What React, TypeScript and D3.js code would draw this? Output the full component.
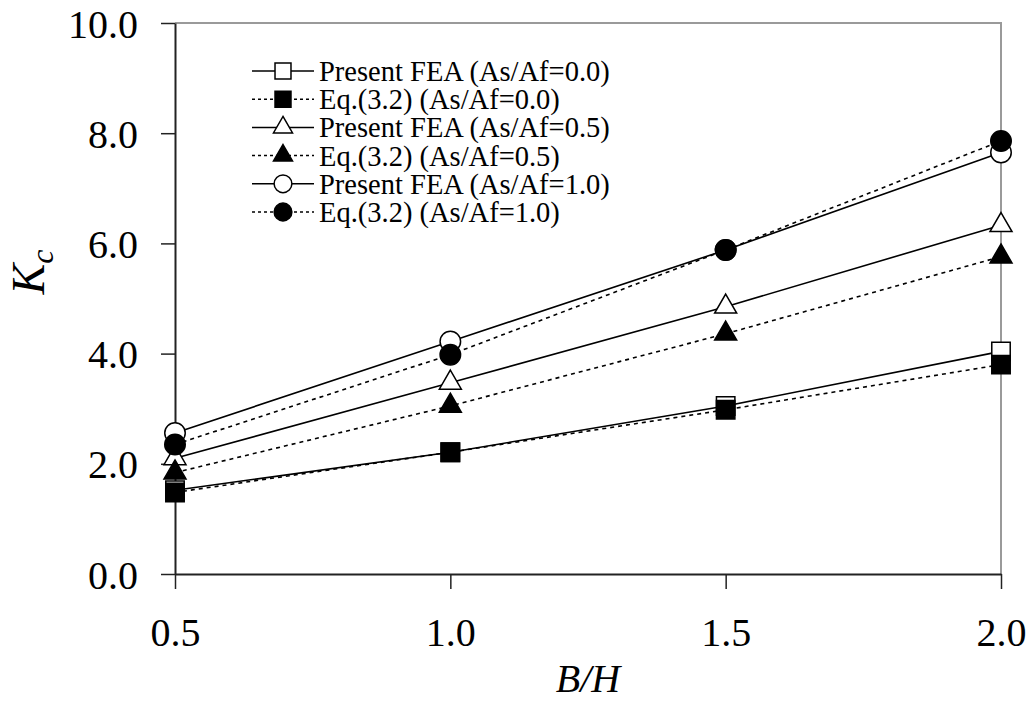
import React, { useEffect, useRef } from "react";
import * as d3 from "d3";

// B/H ratios along the x axis
const ratios = [0.5, 1.0, 1.5, 2.0];

// K_c
const feaAs00 = [1.52, 2.21, 3.05, 4.04];
const eqAs00 = [1.48, 2.21, 2.98, 3.8];
const feaAs05 = [2.1, 3.47, 4.85, 6.33];
const eqAs05 = [1.84, 3.05, 4.36, 5.76];
const feaAs10 = [2.56, 4.22, 5.88, 7.65];
const eqAs10 = [2.35, 3.98, 5.88, 7.86];

const seriesNames = [
  "Present FEA (As/Af=0.0)",
  "Eq.(3.2) (As/Af=0.0)",
  "Present FEA (As/Af=0.5)",
  "Eq.(3.2) (As/Af=0.5)",
  "Present FEA (As/Af=1.0)",
  "Eq.(3.2) (As/Af=1.0)",
];

const xTicks = [0.5, 1.0, 1.5, 2.0];
const yTicks = [0, 2, 4, 6, 8, 10];

const App = () => {
  const ref = useRef<SVGSVGElement>(null);

  useEffect(() => {
    const width = 1033;
    const height = 704;
    const margin = { top: 23, right: 32, bottom: 130, left: 175 };
    const font = "'Liberation Serif', 'Times New Roman', serif";

    const svg = d3.select(ref.current);
    svg.selectAll("*").remove();

    const x = d3.scaleLinear().domain([0.5, 2.0]).range([margin.left, width - margin.right]);
    const y = d3.scaleLinear().domain([0, 10]).range([height - margin.bottom, margin.top]);

    const series = [
      { name: seriesNames[0], values: feaAs00, shape: d3.symbolSquare, filled: false, dashed: false },
      { name: seriesNames[1], values: eqAs00, shape: d3.symbolSquare, filled: true, dashed: true },
      { name: seriesNames[2], values: feaAs05, shape: d3.symbolTriangle, filled: false, dashed: false },
      { name: seriesNames[3], values: eqAs05, shape: d3.symbolTriangle, filled: true, dashed: true },
      { name: seriesNames[4], values: feaAs10, shape: d3.symbolCircle, filled: false, dashed: false },
      { name: seriesNames[5], values: eqAs10, shape: d3.symbolCircle, filled: true, dashed: true },
    ];

    const symSize = (shape) => (shape === d3.symbolSquare ? 340 : shape === d3.symbolTriangle ? 210 : 330);

    // plot area border (grey top and right)
    svg.append("path")
      .attr("d", `M${x(0.5)},${y(10)}H${x(2)}V${y(0)}`)
      .attr("fill", "none")
      .attr("stroke", "#9a9a9a")
      .attr("stroke-width", 2);

    // axes
    const xAxis = svg.append("g")
      .attr("transform", `translate(0,${y(0)})`)
      .call(d3.axisBottom(x).tickValues(xTicks).tickFormat(d3.format(".1f")).tickSize(15).tickSizeOuter(0));
    xAxis.select(".domain").attr("stroke", "#222").attr("stroke-width", 2);
    xAxis.selectAll(".tick line").attr("stroke", "#222").attr("stroke-width", 1.5);
    xAxis.selectAll("text")
      .attr("font-family", font)
      .attr("font-size", 40)
      .attr("fill", "#000")
      .attr("dy", null)
      .attr("y", 72);

    const yAxis = svg.append("g")
      .attr("transform", `translate(${x(0.5)},0)`)
      .call(d3.axisLeft(y).tickValues(yTicks).tickFormat(d3.format(".1f")).tickSize(14).tickSizeOuter(0));
    yAxis.select(".domain").attr("stroke", "#222").attr("stroke-width", 2);
    yAxis.selectAll(".tick line").attr("stroke", "#222").attr("stroke-width", 1.5);
    yAxis.selectAll("text")
      .attr("font-family", font)
      .attr("font-size", 40)
      .attr("fill", "#000")
      .attr("x", -37)
      .attr("dy", "0.35em");

    // axis titles
    svg.append("text")
      .attr("x", (x(0.5) + x(2)) / 2)
      .attr("y", 692)
      .attr("text-anchor", "middle")
      .attr("font-family", font)
      .attr("font-style", "italic")
      .attr("font-size", 40)
      .text("B/H");

    const kc = svg.append("text")
      .attr("transform", `translate(44,272) rotate(-90)`)
      .attr("text-anchor", "middle")
      .attr("font-family", font)
      .attr("font-style", "italic")
      .attr("font-size", 46);
    kc.append("tspan").text("K");
    kc.append("tspan").attr("font-size", 32).attr("dy", 9).text("c");

    // lines and markers
    const line = d3.line<number>().x((d, i) => x(ratios[i])).y((d) => y(d));
    series.forEach((s) => {
      svg.append("path")
        .datum(s.values)
        .attr("d", line)
        .attr("fill", "none")
        .attr("stroke", "#000")
        .attr("stroke-width", 1.6)
        .attr("stroke-dasharray", s.dashed ? "4,4" : null);
    });
    series.forEach((s) => {
      svg.append("g")
        .selectAll("path")
        .data(s.values)
        .enter().append("path")
        .attr("transform", (d, i) => `translate(${x(ratios[i])},${y(d)})`)
        .attr("d", d3.symbol().type(s.shape).size(symSize(s.shape)))
        .attr("fill", s.filled ? "#000" : "#fff")
        .attr("stroke", "#000")
        .attr("stroke-width", 1.5);
    });

    // legend
    const legend = svg.append("g").attr("transform", "translate(252,71)");
    const rows = legend.selectAll("g")
      .data(series)
      .enter().append("g")
      .attr("transform", (d, i) => `translate(0,${i * 28.2})`);
    rows.append("line")
      .attr("x1", 0).attr("x2", 62)
      .attr("stroke", "#000")
      .attr("stroke-width", 1.5)
      .attr("stroke-dasharray", (d) => (d.dashed ? "3,3" : null));
    rows.append("path")
      .attr("transform", "translate(31,0)")
      .attr("d", (d) => d3.symbol().type(d.shape).size(symSize(d.shape) * 0.75)())
      .attr("fill", (d) => (d.filled ? "#000" : "#fff"))
      .attr("stroke", "#000")
      .attr("stroke-width", 1.5);
    rows.append("text")
      .attr("x", 67)
      .attr("dy", "0.35em")
      .attr("font-family", font)
      .attr("font-size", 28.5)
      .text((d) => d.name);
  }, []);

  return (
    <svg
      ref={ref}
      width={1033}
      height={704}
      style={{ position: "absolute", left: 0, top: 0, background: "#fff" }}
    ></svg>
  );
};

export default App;
